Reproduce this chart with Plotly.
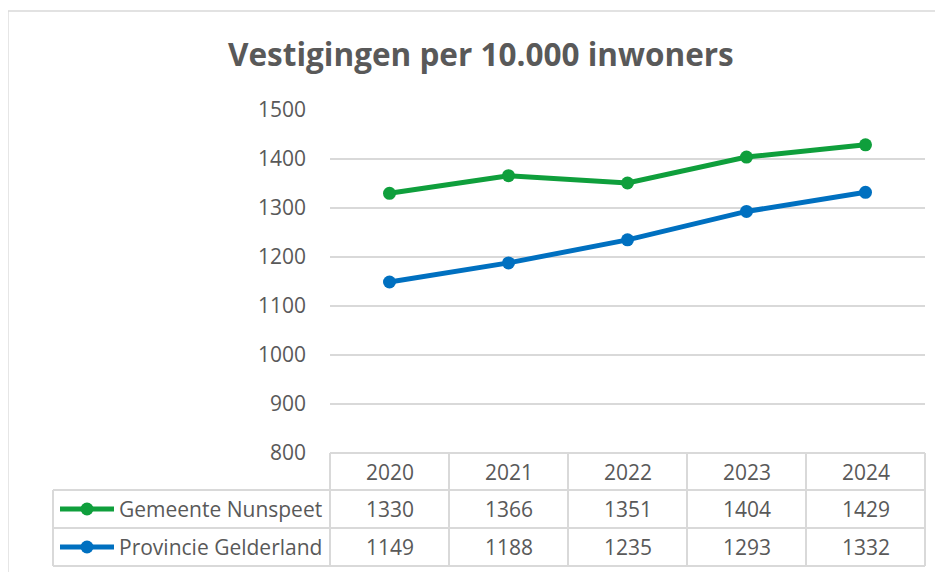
import plotly.graph_objects as go

years = ["2020", "2021", "2022", "2023", "2024"]
series_names = ["Gemeente Nunspeet", "Provincie Gelderland"]
nunspeet = [1330, 1366, 1351, 1404, 1429]
gelderland = [1149, 1188, 1235, 1293, 1332]
y_ticks = [800, 900, 1000, 1100, 1200, 1300, 1400, 1500]
title_text = "Vestigingen per 10.000 inwoners"

# page body has an 8px margin; figure fills the rest of the 943x572 window
OFF = 8
W, H = 943 - OFF, 572 - OFF
GREEN = "#0F9F3C"
BLUE = "#0070C0"
GRID = "#D9D9D9"
TXT = "#595959"
FONT = "Open Sans"

def px(x):
    return (x - OFF) / W

def py(y):
    return 1 - (y - OFF) / H

# layout positions (window pixels)
X0, X1 = 330, 925
Y_TOP, Y_BOT = 110, 453
ROWS = [453, 490, 528, 566]
LEFT = 53

fig = go.Figure()
for name, vals, col in [(series_names[0], nunspeet, GREEN), (series_names[1], gelderland, BLUE)]:
    fig.add_trace(go.Scatter(
        x=years, y=vals, name=name, mode="lines+markers",
        line=dict(color=col, width=5),
        marker=dict(color=col, size=13),
        showlegend=False,
    ))

shapes = []
annotations = []

# outer chart border
shapes.append(dict(type="rect", xref="paper", yref="paper",
                   x0=px(8), x1=px(960), y0=py(590), y1=py(11),
                   line=dict(color=GRID, width=1.3), layer="below"))

# table horizontal lines
shapes.append(dict(type="line", xref="paper", yref="paper", x0=px(X0), x1=px(X1),
                   y0=py(ROWS[0]), y1=py(ROWS[0]), line=dict(color=GRID, width=2)))
for r in ROWS[1:]:
    shapes.append(dict(type="line", xref="paper", yref="paper", x0=px(LEFT), x1=px(X1),
                       y0=py(r), y1=py(r), line=dict(color=GRID, width=2)))
# table vertical lines
ncol = len(years)
for i in range(ncol + 1):
    xx = X0 + (X1 - X0) * i / ncol
    shapes.append(dict(type="line", xref="paper", yref="paper", x0=px(xx), x1=px(xx),
                       y0=py(ROWS[0]), y1=py(ROWS[3]), line=dict(color=GRID, width=2)))
shapes.append(dict(type="line", xref="paper", yref="paper", x0=px(LEFT), x1=px(LEFT),
                   y0=py(ROWS[1]), y1=py(ROWS[3]), line=dict(color=GRID, width=2)))

def cell_text(i, yc, text):
    return dict(x=i, xref="x", y=py(yc), yref="paper", xanchor="center", yanchor="middle",
                text=text, showarrow=False, font=dict(family=FONT, size=21, color=TXT))

# header years and values
for i, yr in enumerate(years):
    annotations.append(cell_text(i, (ROWS[0] + ROWS[1]) / 2, yr))
for row, vals in enumerate([nunspeet, gelderland]):
    yc = (ROWS[row + 1] + ROWS[row + 2]) / 2
    for i, v in enumerate(vals):
        annotations.append(cell_text(i, yc, str(v)))

# legend keys in table
for row, (name, col) in enumerate([(series_names[0], GREEN), (series_names[1], BLUE)]):
    yc = (ROWS[row + 1] + ROWS[row + 2]) / 2
    shapes.append(dict(type="line", xref="paper", yref="paper", x0=px(60), x1=px(114),
                       y0=py(yc), y1=py(yc), line=dict(color=col, width=5)))
    shapes.append(dict(type="circle", xref="paper", yref="paper", x0=px(80.5), x1=px(93.5),
                       y0=py(yc + 6.5), y1=py(yc - 6.5), fillcolor=col, line=dict(width=0)))
    annotations.append(dict(x=px(117), xref="paper", y=py(yc), yref="paper",
                            xanchor="left", yanchor="middle",
                            text=name, showarrow=False,
                            font=dict(family=FONT, size=21, color=TXT)))

# title
annotations.append(dict(x=px(481), xref="paper", y=py(54), yref="paper",
                        xanchor="center", yanchor="middle",
                        text="<b>" + title_text + "</b>", showarrow=False,
                        font=dict(family=FONT, size=31.5, color=TXT)))

fig.update_layout(
    width=W, height=H,
    margin=dict(l=0, r=0, t=0, b=0),
    paper_bgcolor="white", plot_bgcolor="white",
    shapes=shapes, annotations=annotations,
    xaxis=dict(type="category", domain=[px(X0), px(X1)], range=[-0.5, 4.5],
               showticklabels=False, showgrid=False, zeroline=False, showline=False,
               fixedrange=True, automargin=False),
    yaxis=dict(domain=[py(Y_BOT), py(Y_TOP)], range=[800, 1500], tickvals=y_ticks,
               showgrid=True, gridcolor=GRID, gridwidth=2, zeroline=False, showline=False,
               ticks="", ticklabelstandoff=23, automargin=False,
               tickfont=dict(family=FONT, size=21, color=TXT)),
)

fig.write_html("out.html")
